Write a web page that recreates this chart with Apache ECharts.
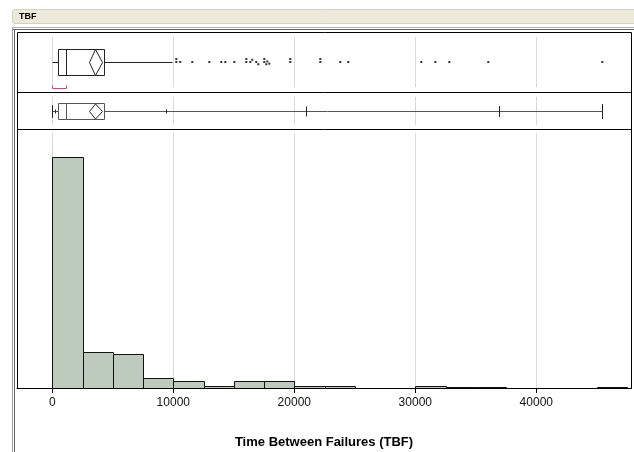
<!DOCTYPE html>
<html><head><meta charset="utf-8">
<script src="https://cdn.jsdelivr.net/npm/echarts@6/dist/echarts.min.js"></script>
<style>html,body{margin:0;padding:0;background:#fff}#c{width:634px;height:452px}</style>
</head><body><div id="c"></div>
<script>
// ---- data ----
const panelTitle = 'TBF';
const axisTitle = 'Time Between Failures (TBF)';
const tickValues = [0, 10000, 20000, 30000, 40000];
const binWidth = 2500;
const binStarts = [0, 2500, 5000, 7500, 10000, 12500, 15000, 17500, 20000, 22500, 25000, 27500, 30000, 32500, 35000, 37500, 40000, 42500, 45000];
const binCounts = [205, 32, 30, 9, 6, 2, 6, 6, 2, 2, 0, 0, 2, 1, 1, 0, 0, 0, 1];
// outlier box plot: [whisker low, Q1, median, Q3, whisker high]
const boxFive = [0, 438, 1157, 4240, 9917];
// mean diamond: [lower 95% CI, mean, upper 95% CI]
const meanDiamond = [3000, 3570, 4132];
const shortestHalf = [0, 1157];
const outliers = [10248, 10248, 10578, 11570, 12975, 13967, 14298, 15041, 16033, 16033, 16364, 16529, 16860, 17025, 17521, 17521, 17686, 17769, 17934, 19669, 19669, 22149, 22149, 23802, 24463, 30496, 31653, 32810, 36033, 45455];
// quantile box plot: min, 0.5%, 2.5%, 10%, 90%, 97.5%, 99.5%, max
const quantileLevels = ['min', '0.5%', '2.5%', '10%', '90%', '97.5%', '99.5%', 'max'];
const quantileValues = [0, 0, 0, 250, 9420, 21000, 36940, 45455];

// ---- layout / style ----
const xMin = -2917, xMax = 47826;
const tickHalf = {'min': 6, '0.5%': 6, '2.5%': 6, '10%': 2, '90%': 2, '97.5%': 5, '99.5%': 5.5, 'max': 7.5};
const crisp = v => Math.round(v) + 0.5;
const ink = '#222';

const chart = echarts.init(document.getElementById('c'), null, {renderer: 'canvas'});

function hiddenX(gi) {
  return {type: 'value', gridIndex: gi, min: xMin, max: xMax,
    axisLine: {show: false}, axisTick: {show: false}, axisLabel: {show: false},
    splitLine: {show: true, lineStyle: {color: '#d9d9d9', width: 1}}};
}

function renderBox(params, api) {
  const px = v => crisp(api.coord([v, 0])[0]);
  const y = crisp(api.coord([0, 0])[1]);
  const h = 13;
  const [lo, q1, md, q3, hi] = boxFive;
  const [cl, mn, ch] = meanDiamond;
  const ls = {stroke: ink, lineWidth: 1, fill: null};
  return {type: 'group', children: [
    {type: 'line', shape: {x1: px(lo), y1: y, x2: px(q1), y2: y}, style: ls},
    {type: 'line', shape: {x1: px(q3), y1: y, x2: px(hi), y2: y}, style: ls},
    {type: 'rect', shape: {x: px(q1), y: y - h, width: px(q3) - px(q1), height: 2 * h}, style: {fill: '#fff', stroke: ink, lineWidth: 1}},
    {type: 'line', shape: {x1: px(md), y1: y - h, x2: px(md), y2: y + h}, style: ls},
    {type: 'polygon', shape: {points: [[px(cl), y], [px(mn), y - h], [px(ch), y], [px(mn), y + h]]}, style: {fill: null, stroke: ink, lineWidth: 1}},
    {type: 'polyline', shape: {points: [[px(shortestHalf[0]), y + 23], [px(shortestHalf[0]), y + 26], [px(shortestHalf[1]), y + 26], [px(shortestHalf[1]), y + 23]]}, style: {stroke: '#e8406a', lineWidth: 1, fill: null}}
  ]};
}

function renderQuantile(params, api) {
  const px = v => crisp(api.coord([v, 0])[0]);
  const y = crisp(api.coord([0, 0])[1]);
  const h = 8;
  const [lo, q1, md, q3, hi] = boxFive;
  const [cl, mn, ch] = meanDiamond;
  const children = [
    {type: 'line', shape: {x1: px(quantileValues[0]), y1: y, x2: px(quantileValues[quantileValues.length - 1]), y2: y}, style: {stroke: '#555', lineWidth: 1}},
    {type: 'rect', shape: {x: px(q1), y: y - h, width: px(q3) - px(q1), height: 2 * h}, style: {fill: '#fff', stroke: '#555', lineWidth: 1}},
    {type: 'line', shape: {x1: px(md), y1: y - h, x2: px(md), y2: y + h}, style: {stroke: '#555', lineWidth: 1}},
    {type: 'polygon', shape: {points: [[px(cl), y], [px(mn), y - 7.5], [px(ch), y], [px(mn), y + 7.5]]}, style: {fill: null, stroke: ink, lineWidth: 1}}
  ];
  quantileValues.forEach((v, i) => {
    const t = tickHalf[quantileLevels[i]];
    children.push({type: 'line', shape: {x1: px(v), y1: y - t, x2: px(v), y2: y + t}, style: {stroke: '#222', lineWidth: 1}});
  });
  return {type: 'group', children};
}

function renderBar(params, api) {
  const s = api.value(0), c = api.value(1);
  if (!c) return null;
  const p0 = api.coord([s, c]);
  const p1 = api.coord([s + binWidth, 0]);
  const x0 = crisp(p0[0]), x1 = crisp(p1[0]);
  const y0 = Math.round(p0[1]) + 0.5, y1 = crisp(p1[1]);
  return {type: 'rect', shape: {x: x0, y: y0, width: x1 - x0, height: y1 - y0},
    style: {fill: '#bccbbc', stroke: '#111', lineWidth: 1}};
}

const option = {
  animation: false,
  grid: [
    {left: 17, width: 614, top: 37, height: 50, outerBoundsMode: 'none', containLabel: false},
    {left: 17, width: 614, top: 97, height: 28, outerBoundsMode: 'none', containLabel: false},
    {left: 17, width: 614, top: 133, height: 255, outerBoundsMode: 'none', containLabel: false}
  ],
  xAxis: [
    hiddenX(0), hiddenX(1),
    {type: 'value', gridIndex: 2, min: xMin, max: xMax,
      name: axisTitle, nameLocation: 'middle', nameGap: 48,
      nameTextStyle: {fontFamily: 'Liberation Sans, Arial', fontWeight: 'bold', fontSize: 13, color: '#000'},
      axisLine: {show: true, onZero: false, lineStyle: {color: '#000', width: 1}},
      axisTick: {show: true, length: 5, customValues: tickValues, lineStyle: {color: '#000'}},
      axisLabel: {show: true, customValues: tickValues, margin: 9, fontFamily: 'Liberation Sans, Arial', fontSize: 12, color: '#111',
        formatter: v => String(v)},
      splitLine: {show: true, lineStyle: {color: '#d9d9d9', width: 1}}}
  ],
  yAxis: [
    {type: 'category', gridIndex: 0, data: [panelTitle], show: false, jitter: 16, jitterOverlap: false, jitterMargin: 1},
    {type: 'category', gridIndex: 1, data: [panelTitle], show: false},
    {type: 'value', gridIndex: 2, min: 0, max: 226, show: false}
  ],
  series: [
    {type: 'custom', xAxisIndex: 2, yAxisIndex: 2, renderItem: renderBar,
      data: binStarts.map((s, i) => [s, binCounts[i]]), z: 3},
    {type: 'custom', xAxisIndex: 0, yAxisIndex: 0, renderItem: renderBox, data: [[0, 0]], z: 3},
    {type: 'scatter', xAxisIndex: 0, yAxisIndex: 0, symbol: 'rect', symbolSize: 2,
      itemStyle: {color: '#000'}, data: outliers.map(v => [v, 0]), z: 4},
    {type: 'custom', xAxisIndex: 1, yAxisIndex: 1, renderItem: renderQuantile, data: [[0, 0]], z: 3}
  ],
  graphic: [
    {type: 'rect', shape: {x: 12.5, y: 9.5, width: 640, height: 14, r: 2}, style: {fill: '#ece9d8', stroke: '#d6d2c2', lineWidth: 1}, z: 10},
    {type: 'text', left: 19, top: 12, style: {text: panelTitle, font: 'bold 9px "Liberation Sans", Arial', fill: '#000'}, z: 11},
    {type: 'line', shape: {x1: 12, y1: 27.5, x2: 634, y2: 27.5}, style: {stroke: '#b4b4b4', lineWidth: 1}, z: 10},
    {type: 'line', shape: {x1: 12, y1: 29.5, x2: 634, y2: 29.5}, style: {stroke: '#666', lineWidth: 1}, z: 10},
    {type: 'line', shape: {x1: 12.5, y1: 27, x2: 12.5, y2: 452}, style: {stroke: '#a0a0a0', lineWidth: 1}, z: 10},
    {type: 'line', shape: {x1: 14.5, y1: 29, x2: 14.5, y2: 452}, style: {stroke: '#666', lineWidth: 1}, z: 10},
    {type: 'rect', shape: {x: 17.5, y: 32.5, width: 614, height: 356}, style: {fill: null, stroke: '#000', lineWidth: 1}, z: 10},
    {type: 'line', shape: {x1: 17, y1: 92.5, x2: 632, y2: 92.5}, style: {stroke: '#000', lineWidth: 1}, z: 10},
    {type: 'line', shape: {x1: 17, y1: 129.5, x2: 632, y2: 129.5}, style: {stroke: '#000', lineWidth: 1}, z: 10}
  ]
};
chart.setOption(option);
</script>
</body></html>
